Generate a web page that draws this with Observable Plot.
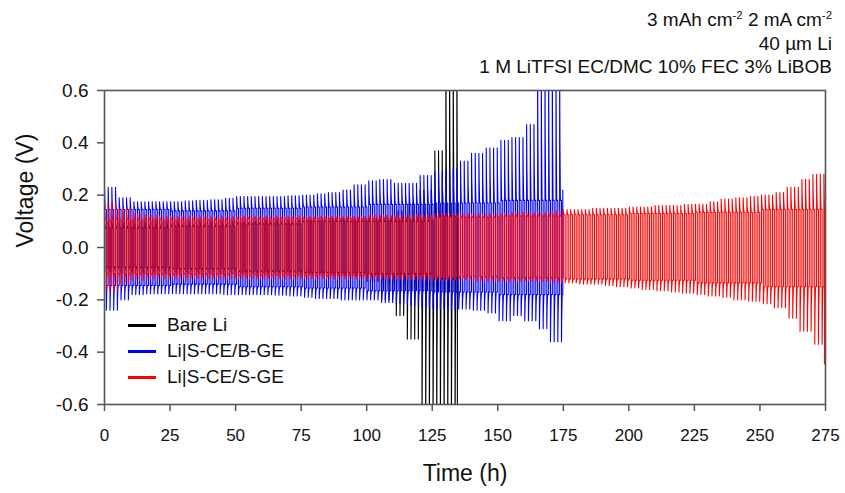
<!DOCTYPE html>
<html><head><meta charset="utf-8">
<script src="https://cdn.jsdelivr.net/npm/d3@7"></script>
<script src="https://cdn.jsdelivr.net/npm/@observablehq/plot@0.6"></script>
<style>
body{margin:0;background:#fff;font-family:"Liberation Sans",Arial,sans-serif;}
#wrap{position:relative;width:845px;height:493px;}
#chart{position:absolute;left:0;top:0;}
#note{position:absolute;right:13px;top:8px;text-align:right;font-size:19px;line-height:23.5px;color:#111;white-space:nowrap;}
#note sup{font-size:0.6em;line-height:0;vertical-align:0.6em;}
#legend{position:absolute;left:128px;top:312px;font-size:19px;color:#111;}
.row{display:flex;align-items:center;height:26px;white-space:nowrap;}
.sw{width:28px;height:3px;margin-right:11px;}
</style></head><body>
<div id="wrap"><div id="chart"></div><div id="note"></div><div id="legend"></div></div>
<script>
// ---- data ----
const seriesNames = ["Bare Li", "Li|S-CE/B-GE", "Li|S-CE/S-GE"];
const seriesColors = ["#000000", "#0000ff", "#ff0000"];
const noteLines = ["3 mAh cm<sup>-2</sup> 2 mA cm<sup>-2</sup>", "40 µm Li", "1 M LiTFSI EC/DMC 10% FEC 3% LiBOB"];
const xTicks = [0, 25, 50, 75, 100, 125, 150, 175, 200, 225, 250, 275];
const yTicks = [-0.6, -0.4, -0.2, 0.0, 0.2, 0.4, 0.6];
const yTickLabels = ["-0.6", "-0.4", "-0.2", "0.0", "0.2", "0.4", "0.6"];

const halfCycle = 0.7;           // h per plating/stripping step (as seen)
const endHours = [134.6, 174.8, 274.6];
const endVolts = [-0.8, 0.22, -0.445];

// peak voltages per 5-h window (window start times)
const hours5 = [0,5,10,15,20,25,30,35,40,45,50,55,60,65,70,75,80,85,90,95,100,105,110,115,120,125,130,135,140,145,150,155,160,165,170,175,180,185,190,195,200,205,210,215,220,225,230,235,240,245,250,255,260,265,270];
// plateau voltages per 25-h window
const hours25 = [0,25,50,75,100,125,150,175,200,225,250];

const blackPeakHi = [0.1,0.1,0.1,0.1,0.1, 0.1,0.1,0.1,0.1,0.1, 0.1,0.1,0.105,0.105,0.105, 0.105,0.105,0.11,0.11,0.11, 0.11,0.12,0.14,0.17,0.22, 0.37,0.8];
const blackPeakLo = [-0.095,-0.095,-0.095,-0.095,-0.095, -0.095,-0.095,-0.095,-0.095,-0.095, -0.1,-0.1,-0.1,-0.1,-0.1, -0.1,-0.1,-0.105,-0.105,-0.11, -0.13,-0.2,-0.26,-0.35,-0.8, -0.8,-0.8];
const blackLevelHi = [0.075,0.08,0.09,0.1,0.1,0.12];
const blackLevelLo = [-0.075,-0.08,-0.09,-0.095,-0.1,-0.12];

const bluePeakHi = [0.23,0.19,0.175,0.175,0.175, 0.175,0.178,0.18,0.182,0.188, 0.195,0.195,0.195,0.195,0.198, 0.2,0.205,0.21,0.22,0.24, 0.255,0.26,0.245,0.245,0.275, 0.29,0.3,0.33,0.36,0.38, 0.41,0.42,0.47,0.7,0.7];
const bluePeakLo = [-0.24,-0.2,-0.18,-0.177,-0.177, -0.177,-0.177,-0.177,-0.177,-0.18, -0.18,-0.18,-0.18,-0.182,-0.185, -0.19,-0.195,-0.195,-0.2,-0.2, -0.2,-0.21,-0.215,-0.22,-0.23, -0.235,-0.24,-0.235,-0.24,-0.25, -0.28,-0.26,-0.28,-0.31,-0.36];
const blueLevelHi = [0.145,0.14,0.15,0.155,0.165,0.17,0.18];
const blueLevelLo = [-0.145,-0.14,-0.15,-0.155,-0.165,-0.17,-0.18];

const redPeakHi = [0.17,0.15,0.13,0.125,0.12, 0.12,0.12,0.12,0.12,0.12, 0.12,0.12,0.12,0.12,0.12, 0.12,0.12,0.12,0.12,0.12, 0.125,0.125,0.125,0.125,0.125, 0.13,0.13,0.13,0.13,0.13, 0.13,0.135,0.135,0.135,0.14, 0.145,0.145,0.15,0.15,0.15, 0.155,0.155,0.16,0.16,0.165, 0.165,0.175,0.185,0.19,0.195, 0.2,0.21,0.23,0.26,0.28];
const redPeakLo = [-0.165,-0.14,-0.125,-0.12,-0.12, -0.12,-0.12,-0.12,-0.12,-0.12, -0.12,-0.12,-0.12,-0.12,-0.12, -0.12,-0.12,-0.12,-0.12,-0.12, -0.12,-0.12,-0.122,-0.122,-0.125, -0.125,-0.125,-0.125,-0.13,-0.13, -0.13,-0.13,-0.13,-0.13,-0.135, -0.135,-0.14,-0.14,-0.145,-0.15, -0.155,-0.16,-0.165,-0.17,-0.175, -0.18,-0.185,-0.19,-0.2,-0.205, -0.215,-0.23,-0.27,-0.32,-0.37];
const redLevelHi = [0.105,0.105,0.11,0.11,0.11,0.115,0.12,0.125,0.13,0.135,0.145];
const redLevelLo = [-0.1,-0.1,-0.105,-0.105,-0.105,-0.11,-0.115,-0.12,-0.125,-0.135,-0.15];

// ---- build the voltage-time trace from the read values ----
function lookup(hours, vals, t) {
  const i = d3.bisectRight(hours, t) - 1;
  return vals[Math.max(0, Math.min(i, vals.length - 1))];
}
function trace(idx, peakHi, peakLo, levelHi, levelLo) {
  const end = endHours[idx], h = halfCycle, pts = [];
  for (let k = 0; k * h < end; k++) {
    const t0 = k * h, up = k % 2 === 0;
    const peak = lookup(hours5, up ? peakHi : peakLo, t0);
    const level = lookup(hours25, up ? levelHi : levelLo, t0);
    const tEnd = Math.min(t0 + h, end);
    pts.push({t: t0, v: peak});
    pts.push({t: Math.min(t0 + 0.15 * h, tEnd), v: level + 0.45 * (peak - level)});
    pts.push({t: Math.min(t0 + 0.4 * h, tEnd), v: level});
    pts.push({t: tEnd, v: level});
  }
  pts.push({t: end, v: endVolts[idx]});
  return pts;
}
const blackData = trace(0, blackPeakHi, blackPeakLo, blackLevelHi, blackLevelLo);
const blueData = trace(1, bluePeakHi, bluePeakLo, blueLevelHi, blueLevelLo);
const redData = trace(2, redPeakHi, redPeakLo, redLevelHi, redLevelLo);

const font = "Liberation Sans, Arial, sans-serif";
const chart = Plot.plot({
  width: 845, height: 493,
  marginLeft: 104, marginRight: 20, marginTop: 90, marginBottom: 89,
  style: {fontFamily: font, background: "white", color: "#111"},
  x: {domain: [0, 275]},
  y: {domain: [-0.6, 0.6]},
  marks: [
    Plot.line(blackData, {x: "t", y: "v", stroke: seriesColors[0], strokeWidth: 1.1, clip: true}),
    Plot.line(blueData, {x: "t", y: "v", stroke: seriesColors[1], strokeWidth: 1.1, clip: true}),
    Plot.line(redData, {x: "t", y: "v", stroke: seriesColors[2], strokeWidth: 1.1, clip: true}),
    Plot.frame({stroke: "#555", strokeWidth: 1.6}),
    Plot.axisX({ticks: xTicks, tickSize: 7, tickPadding: 17, fontSize: 17, stroke: "#555", strokeWidth: 1.5, fill: "#111", label: null, tickFormat: d => String(d)}),
    Plot.axisY({ticks: yTicks, tickSize: 7, tickPadding: 9, fontSize: 19, stroke: "#555", strokeWidth: 1.5, fill: "#111", label: null, tickFormat: (d) => yTickLabels[yTicks.findIndex(v => Math.abs(v - d) < 1e-9)]}),
    Plot.text(["Time (h)"], {frameAnchor: "bottom", dy: 76, fontSize: 23, fill: "#111"}),
    Plot.text(["Voltage (V)"], {frameAnchor: "left", dx: -79, rotate: -90, fontSize: 23, fill: "#111"})
  ]
});
document.getElementById("chart").appendChild(chart);
document.getElementById("note").innerHTML = noteLines.map(s => `<div>${s}</div>`).join("");
const leg = document.getElementById("legend");
seriesNames.forEach((n, i) => {
  const row = document.createElement("div"); row.className = "row";
  const sw = document.createElement("div"); sw.className = "sw"; sw.style.background = seriesColors[i];
  const tx = document.createElement("span"); tx.textContent = n;
  row.appendChild(sw); row.appendChild(tx); leg.appendChild(row);
});
</script>
</body></html>
